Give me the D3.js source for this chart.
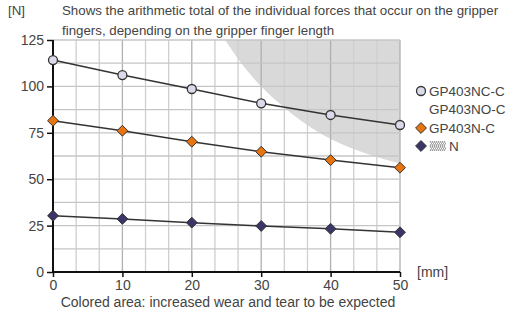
<!DOCTYPE html>
<html>
<head>
<meta charset="utf-8">
<script src="https://cdn.jsdelivr.net/npm/d3@7"></script>
<style>
  body { margin: 0; background: #fff; }
  svg text { font-family: "Liberation Sans", Arial, sans-serif; fill: #444; }
</style>
</head>
<body>
<div id="chart"></div>
<script>
// finger length [mm]
var lengths = [0, 10, 20, 30, 40, 50]
var forceNC = [114.2, 106.1, 98.6, 90.9, 84.6, 79.2]
var forceN = [81.5, 76.1, 70.2, 64.8, 60.3, 56.2]
var forceSpring = [30.3, 28.6, 26.6, 24.8, 23.3, 21.4]
// boundary of the grey "wear" zone
var wearX = [24.8, 27.9, 30, 33.2, 35.6, 40.3, 45, 50]
var wearY = [125, 108.8, 100, 89.1, 81.9, 71.1, 64, 58.5]
var xTicks = [0, 10, 20, 30, 40, 50]
var yTicks = [0, 25, 50, 75, 100, 125]

var width = 519, height = 312
var svg = d3.select('#chart').append('svg')
  .attr('width', width).attr('height', height)

var x = d3.scaleLinear().domain([0, 50]).range([53, 400])
var y = d3.scaleLinear().domain([0, 125]).range([272, 40])

// wear area
var wearPts = wearX.map(function(d, i){ return [d, wearY[i]] })
var area = d3.area()
  .x(function(d){ return x(d[0]) })
  .y0(y(125))
  .y1(function(d){ return y(d[1]) })
  .curve(d3.curveMonotoneX)
svg.append('path').datum(wearPts)
  .attr('d', area)
  .attr('fill', '#d9d9d9')

// grid
var vGrid = d3.range(1, 16).map(function(i){ return i * 10 / 3 })
svg.append('g').selectAll('line').data(vGrid).enter().append('line')
  .attr('x1', function(d){ return x(d) }).attr('x2', function(d){ return x(d) })
  .attr('y1', y(0)).attr('y2', y(125))
  .attr('stroke', function(d, i){ return (i + 1) % 3 == 0 ? '#b0b0b0' : '#cfcfcf' })
  .attr('stroke-width', 1.3)
var hGrid = d3.range(1, 11).map(function(i){ return i * 12.5 })
svg.append('g').selectAll('line').data(hGrid).enter().append('line')
  .attr('x1', x(0)).attr('x2', x(50))
  .attr('y1', function(d){ return y(d) }).attr('y2', function(d){ return y(d) })
  .attr('stroke', '#c6c6c6')
  .attr('stroke-width', 1.3)

// axes
var yAxis = d3.axisLeft(y).tickValues(yTicks).tickSize(6).tickPadding(3)
var gy = svg.append('g').attr('transform', 'translate(' + x(0) + ',0)').call(yAxis)
var xAxis = d3.axisBottom(x).tickValues(xTicks).tickSize(5).tickPadding(3)
var gx = svg.append('g').attr('transform', 'translate(0,' + y(0) + ')').call(xAxis)
;[gx, gy].forEach(function(g){
  g.select('.domain').attr('stroke', '#111').attr('stroke-width', 2)
  g.selectAll('.tick line').attr('stroke', '#111').attr('stroke-width', 1.5)
  g.selectAll('.tick text').attr('font-size', 14).style('fill', '#444')
})
gx.select('.domain').attr('d', 'M' + x(0) + ',0H' + x(50))
gy.select('.domain').attr('d', 'M0,' + y(0) + 'V' + y(125))

// lines
var line = d3.line()
  .x(function(d, i){ return x(lengths[i]) })
  .y(function(d){ return y(d) })

var series = [
  { vals: forceNC, shape: 'circle', fill: '#dadaea' },
  { vals: forceN, shape: 'diamond', fill: '#e8740f' },
  { vals: forceSpring, shape: 'diamond', fill: '#3b3668' }
]

series.forEach(function(s){
  svg.append('path').datum(s.vals)
    .attr('d', line)
    .attr('fill', 'none')
    .attr('stroke', '#333')
    .attr('stroke-width', 1.5)
})

function drawMarker(g, shape, fill, cx, cy){
  if (shape == 'circle') {
    g.append('circle').attr('cx', cx).attr('cy', cy).attr('r', 4.5)
      .attr('fill', fill).attr('stroke', '#333').attr('stroke-width', 1.3)
  } else {
    g.append('path')
      .attr('d', d3.symbol().type(d3.symbolDiamond2).size(75))
      .attr('transform', 'translate(' + cx + ',' + cy + ')')
      .attr('fill', fill).attr('stroke', '#333').attr('stroke-width', 1)
  }
}

series.forEach(function(s){
  var g = svg.append('g')
  s.vals.forEach(function(v, i){
    drawMarker(g, s.shape, s.fill, x(lengths[i]), y(v))
  })
})

// texts
svg.append('text').attr('x', 8).attr('y', 15).attr('font-size', 13.3).text('[N]')
svg.append('text').attr('x', 62).attr('y', 15).attr('font-size', 13.3)
  .text('Shows the arithmetic total of the individual forces that occur on the gripper')
svg.append('text').attr('x', 62).attr('y', 35).attr('font-size', 13.3)
  .text('fingers, depending on the gripper finger length')
svg.append('text').attr('x', 417).attr('y', 277).attr('font-size', 14).text('[mm]')
svg.append('text').attr('x', 228).attr('y', 307).attr('font-size', 14)
  .attr('text-anchor', 'middle')
  .text('Colored area: increased wear and tear to be expected')

// legend
var lg = svg.append('g')
drawMarker(lg, 'circle', '#dadaea', 421, 91)
lg.append('text').attr('x', 429).attr('y', 96).attr('font-size', 13.5).text('GP403NC-C')
lg.append('text').attr('x', 429).attr('y', 114).attr('font-size', 13.5).text('GP403NO-C')
drawMarker(lg, 'diamond', '#e8740f', 421, 128)
lg.append('text').attr('x', 429).attr('y', 133).attr('font-size', 13.5).text('GP403N-C')
drawMarker(lg, 'diamond', '#3b3668', 421, 146)
// little spring icon
var spring = d3.range(0, 8)
lg.append('g').selectAll('path').data(spring).enter().append('path')
  .attr('d', function(d){
    var x0 = 430 + d * 2
    return 'M' + x0 + ',141L' + (x0 + 1.5) + ',143.5L' + x0 + ',146L' + (x0 + 1.5) + ',148.5L' + x0 + ',151'
  })
  .attr('fill', 'none').attr('stroke', '#777').attr('stroke-width', 0.9)
lg.append('text').attr('x', 449).attr('y', 151).attr('font-size', 13.5).text('N')
</script>
</body>
</html>
